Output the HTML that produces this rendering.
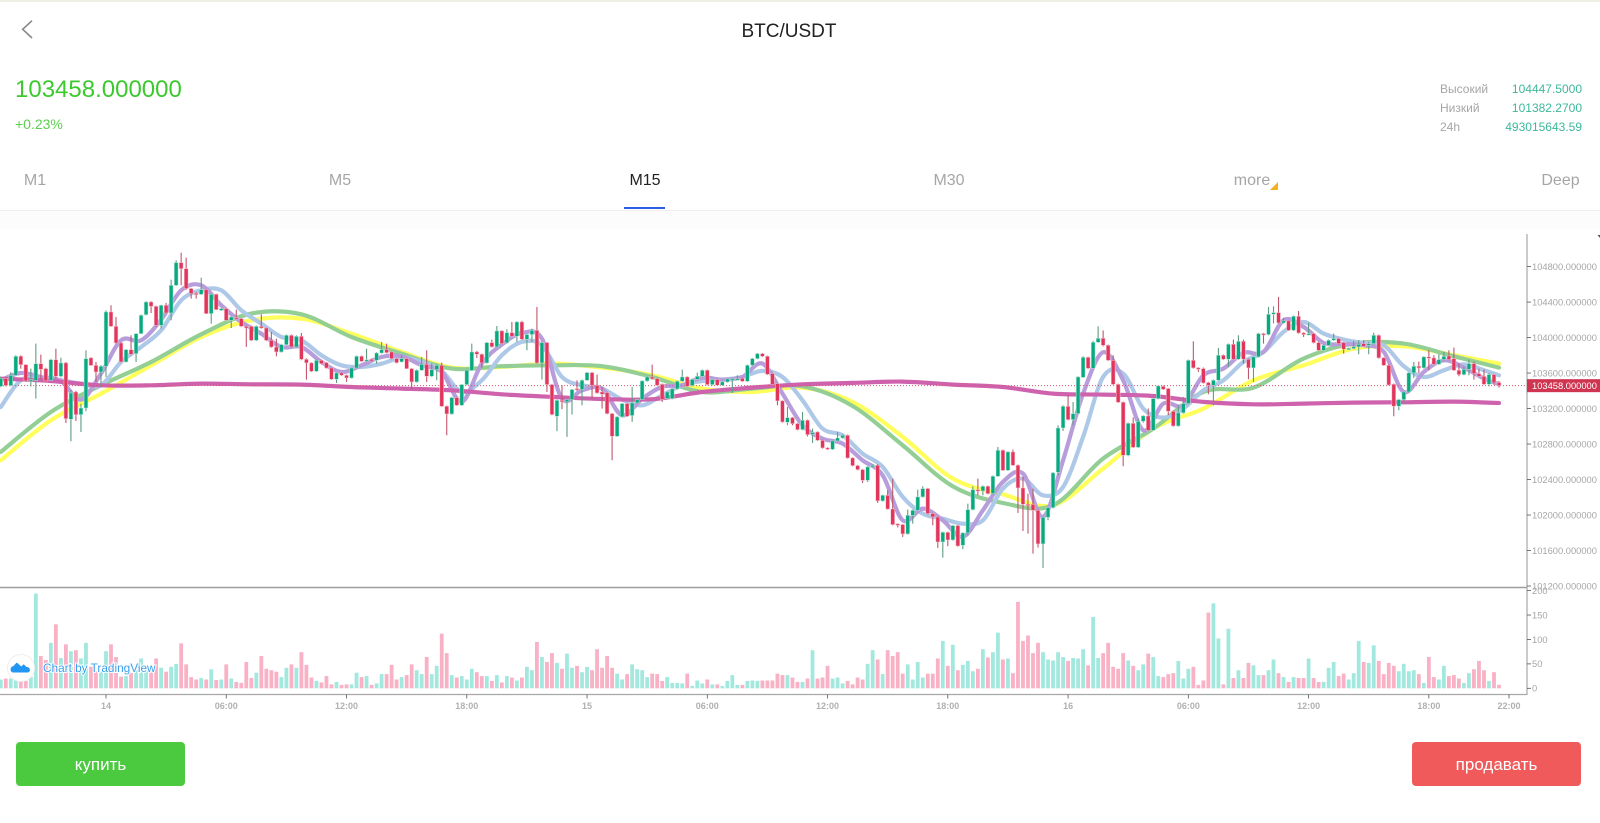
<!DOCTYPE html>
<html lang="ru">
<head>
<meta charset="utf-8">
<title>BTC/USDT</title>
<style>
html,body{margin:0;padding:0;background:#fff;width:1600px;height:823px;overflow:hidden;font-family:"Liberation Sans","Noto Sans CJK SC",sans-serif}
#page{position:relative;width:1600px;height:823px;overflow:hidden;background:#fff;filter:blur(0.3px)}
.abs{position:absolute;white-space:nowrap}
.tab{position:absolute;top:172px;font-size:16px;line-height:18px;color:#a6a6a6;transform:translateX(-50%);cursor:pointer}
.lbl{position:absolute;left:1440px;font-size:12px;line-height:14px;color:#a6a6a6}
.val{position:absolute;right:18px;font-size:12px;line-height:14px;color:#3db89a}
.btn{position:absolute;top:742px;width:169px;height:44px;border-radius:4px;color:#fff;font-size:17px;line-height:46px;text-align:center;cursor:pointer}
svg{position:absolute;left:0;top:0}
svg text{font-family:"Liberation Sans",sans-serif}
</style>
</head>
<body>
<div id="page">
<div class="abs" style="left:0;top:0;width:1600px;height:2px;background:#eef0e4"></div>
<svg width="1600" height="60" style="pointer-events:none"><polyline points="32,20.7 22.7,29.3 32,38" fill="none" stroke="#888" stroke-width="1.6"/></svg>
<div class="abs" style="left:0;width:1578px;top:21px;text-align:center;font-size:19px;line-height:22px;color:#222">BTC/USDT</div>
<div class="abs" style="left:15px;top:76px;font-size:24px;line-height:28px;color:#3cc92e">103458.000000</div>
<div class="abs" style="left:15px;top:116px;font-size:14px;line-height:16px;color:#5bd04e">+0.23%</div>

<div class="lbl" style="top:82px">Высокий</div>
<div class="val" style="top:82px">104447.5000</div>
<div class="lbl" style="top:101px">Низкий</div>
<div class="val" style="top:101px">101382.2700</div>
<div class="lbl" style="top:120px">24h</div>
<div class="val" style="top:120px">493015643.59</div>

<div class="tab" style="left:35px">M1</div>
<div class="tab" style="left:340px">M5</div>
<div class="tab" style="left:645px;color:#222">M15</div>
<div class="tab" style="left:949px">M30</div>
<div class="tab" style="left:1252px">more</div>
<div class="abs" style="left:1270px;top:182px;width:0;height:0;border-left:8px solid transparent;border-bottom:8px solid #f5b022"></div>
<div class="tab" style="left:1560.5px">Deep</div>
<div class="abs" style="left:624px;top:207px;width:41px;height:1.5px;background:#2a5de0"></div>
<div class="abs" style="left:0;top:209.5px;width:1600px;height:1px;background:#efefef"></div>
<div class="abs" style="left:0;top:210.5px;width:1600px;height:18px;background:#fcfcfc"></div>

<svg id="chart" width="1600" height="823"></svg>

<div class="btn" style="left:16px;background:#4bc93f">купить</div>
<div class="btn" style="left:1412px;background:#f05a5a">продавать</div>
</div>

<script>
// [open, close, high, low] for each 15-minute bar
var candles = [
[103450,103540,103560,103440],[103540,103460,103550,103450],[103460,103575,103610,103450],[103575,103789,103800,103570],[103790,103695,103800,103650],
[103695,103511,103700,103500],[103510,103525,103650,103450],[103518,103706,103932,103312],[103706,103642,103808,103530],[103650,103511,103660,103500],
[103518,103751,103760,103510],[103751,103563,103875,103537],[103563,103714,103774,103550],[103714,103086,103725,103037],[103079,103376,103406,102831],
[103387,103131,103400,103060],[103131,103206,103255,102936],[103206,103763,103856,103169],[103770,103687,103780,103680],[103687,103612,103725,103500],
[103612,103676,103690,103443],[103676,104289,104307,103556],[104289,104127,104364,104120],[104127,103939,104232,103930],[103939,103725,103950,103720],
[103725,103864,103870,103720],[103864,103811,104026,103800],[103819,104044,104050,103725],[104044,104251,104260,104040],[104258,104401,104410,104250],
[104401,104352,104410,104277],[104352,104138,104360,104120],[104138,104364,104370,104101],[104364,104277,104390,104270],[104277,104589,104653,104195],
[104589,104845,104871,104580],[104845,104777,104957,104589],[104777,104552,104901,104540],[104552,104495,104560,104439],[104499,104488,104510,104439],
[104488,104540,104675,104480],[104540,104270,104550,104265],[104270,104488,104495,104157],[104488,104315,104495,104310],[104307,104326,104335,104300],
[104326,104195,104335,104190],[104195,104232,104240,104108],[104225,104213,104315,104205],[104213,104127,104220,104120],[104127,104108,104135,103894],
[104127,103969,104135,103960],[103969,104127,104135,103960],[104127,104108,104262,104100],[104108,103969,104115,103960],[103969,103894,104063,103885],
[103894,103838,103988,103789],[103838,103920,103930,103830],[103920,104026,104035,103915],[104026,103894,104035,103885],[103894,104014,104025,103885],
[104014,103755,104052,103745],[103755,103714,103765,103526],[103714,103620,103722,103612],[103620,103744,103752,103612],[103744,103706,103752,103698],
[103717,103657,103725,103650],[103657,103530,103665,103522],[103530,103601,103610,103488],[103601,103575,103610,103568],[103575,103545,103583,103500],
[103545,103657,103665,103538],[103657,103789,103797,103650],[103789,103732,103797,103725],[103736,103751,103875,103728],[103755,103736,103763,103728],
[103744,103826,103835,103706],[103826,103864,103950,103818],[103864,103830,103932,103822],[103838,103763,103845,103755],[103763,103717,103770,103710],
[103726,103763,103801,103720],[103763,103650,103770,103645],[103650,103500,103658,103425],[103500,103632,103640,103492],[103632,103699,103782,103625],
[103699,103564,103857,103500],[103564,103639,103707,103556],[103639,103688,103696,103519],[103688,103226,103718,103218],[103226,103139,103234,102899],
[103139,103324,103332,103131],[103324,103237,103332,103229],[103237,103470,103478,103229],[103470,103632,103640,103462],[103632,103838,103932,103625],
[103838,103812,103850,103771],[103812,103714,103820,103662],[103714,103943,103951,103706],[103943,103895,103977,103887],[103895,104075,104131,103887],
[104075,103932,104083,103925],[103940,104056,104094,103932],[104056,104015,104176,104007],[104015,104176,104184,103951],[104176,103981,104188,103973],
[103981,104034,104042,103857],[104034,104082,104101,103951],[104082,103714,104345,103706],[103714,103943,103951,103526],[103943,103470,103951,103387],
[103470,103132,103478,103124],[103113,103293,103301,102944],[103293,103275,103463,103192],[103275,103301,103310,102880],[103301,103414,103422,103132],
[103425,103414,103519,103400],[103414,103519,103527,103237],[103519,103605,103613,103511],[103605,103463,103613,103312],[103463,103376,103583,103368],
[103387,103361,103444,103200],[103380,103143,103388,103135],[103143,102888,103150,102617],[102888,103106,103114,102880],[103106,103256,103264,103098],
[103256,103113,103264,103105],[103121,103263,103444,103050],[103263,103301,103310,103255],[103301,103511,103519,103293],[103511,103556,103565,103503],
[103556,103534,103695,103525],[103538,103463,103546,103455],[103474,103305,103482,103275],[103312,103387,103395,103304],[103312,103421,103429,103304],
[103421,103508,103516,103413],[103508,103556,103639,103500],[103556,103451,103564,103443],[103459,103530,103538,103451],[103530,103564,103605,103522],
[103564,103632,103640,103556],[103632,103470,103640,103462],[103470,103526,103534,103462],[103526,103463,103534,103455],[103463,103500,103508,103455],
[103500,103534,103542,103492],[103519,103534,103542,103376],[103526,103534,103575,103518],[103541,103508,103550,103500],[103508,103688,103696,103500],
[103688,103763,103771,103680],[103763,103819,103827,103755],[103819,103789,103827,103781],[103789,103587,103797,103579],[103594,103474,103602,103466],
[103481,103286,103489,103237],[103286,103049,103294,103041],[103045,103098,103218,103011],[103098,103030,103106,103011],[103030,102963,103038,102955],
[102963,103068,103162,102955],[103068,102906,103076,102887],[102910,102929,102974,102812],[102936,102842,102944,102834],[102842,102756,102850,102748],
[102756,102741,102764,102733],[102741,102835,102843,102733],[102835,102869,102936,102827],[102869,102899,102907,102861],[102899,102643,102907,102635],
[102643,102557,102651,102549],[102557,102512,102565,102504],[102512,102391,102520,102361],[102391,102542,102550,102372],[102542,102561,102569,102534],
[102561,102159,102572,102136],[102159,102222,102230,102151],[102222,102068,102279,102060],[102068,101892,102410,101884],[101899,101892,101907,101860],
[101892,101787,101900,101753],[101787,101997,102061,101779],[101997,102053,102061,101903],[102053,102204,102286,102045],[102204,102298,102324,102196],
[102298,102016,102306,102008],[102016,101978,102024,101884],[101978,101696,101986,101629],[101696,101805,101813,101520],[101805,101719,101813,101648],
[101719,101881,101889,101711],[101881,101651,101889,101643],[101659,101798,101806,101614],[101798,102061,102128,101772],[102061,102286,102324,102053],
[102286,102271,102410,102222],[102271,102324,102332,102222],[102324,102241,102332,102233],[102241,102437,102445,102233],[102437,102730,102767,102429],
[102730,102504,102738,102496],[102504,102711,102719,102496],[102711,102561,102737,102553],[102561,102305,102569,102023],[102305,102121,102429,101820],
[102121,102110,102241,101790],[102121,102053,102298,101565],[102053,101674,102061,101633],[101674,101974,101982,101403],[101974,102083,102091,101941],
[102083,102474,102485,102075],[102482,102981,103011,102448],[102981,103225,103237,102947],[103225,103075,103349,103067],[103075,103143,103274,103011],
[103143,103556,103564,103135],[103552,103777,103790,103545],[103777,103654,103785,103645],[103654,103947,103960,103645],[103947,103992,104127,103940],
[103992,103913,104080,103900],[103913,103744,103921,103735],[103744,103473,103800,103465],[103473,103271,103481,103263],[103271,102673,103279,102550],
[102673,103034,103042,102662],[103034,102763,103100,102755],[102763,103056,103090,102755],[103057,103117,103125,103040],[103117,102955,103200,102947],
[102955,103312,103320,102947],[103312,103455,103463,103304],[103451,103417,103460,103409],[103425,103170,103433,103125],[103170,103004,103178,102996],
[103004,103151,103237,102996],[103151,103256,103331,103143],[103256,103744,103752,103248],[103744,103658,103958,103650],[103658,103643,103666,103613],
[103650,103489,103662,103481],[103493,103463,103501,103361],[103463,103519,103527,103237],[103519,103801,103883,103511],[103801,103756,103809,103748],
[103756,103925,103933,103670],[103925,103756,103977,103748],[103756,103958,104026,103748],[103958,103756,103977,103707],[103756,103658,103764,103530],
[103658,103782,103790,103500],[103782,104045,104053,103774],[104045,104034,104053,103932],[104034,104263,104345,104026],[104263,104282,104353,104158],
[104282,104165,104458,104157],[104165,104188,104225,104157],[104188,104082,104196,104074],[104082,104240,104248,104074],[104240,104052,104300,104044],
[104052,104034,104060,104007],[104034,104045,104165,104026],[104045,103943,104053,103935],[103943,103857,103951,103849],[103857,103913,103921,103849],
[103913,103970,103978,103905],[103970,103989,104045,103962],[103989,103932,103997,103924],[103943,103868,103951,103819],[103868,103880,103888,103860],
[103876,103895,103962,103868],[103895,103925,103970,103812],[103932,103902,103970,103894],[103913,103932,103950,103812],[103932,104026,104056,103924],
[104026,103771,104034,103763],[103771,103688,103779,103680],[103688,103466,103696,103458],[103474,103226,103482,103113],[103226,103301,103309,103181],
[103301,103387,103395,103248],[103387,103602,103610,103379],[103602,103677,103726,103545],[103677,103658,103730,103600],[103658,103782,103790,103650],
[103782,103771,103857,103632],[103771,103699,103801,103691],[103699,103752,103812,103691],[103752,103789,103838,103744],[103793,103752,103857,103744],
[103763,103632,103887,103624],[103632,103583,103707,103564],[103583,103643,103670,103575],[103643,103707,103752,103575],[103707,103594,103730,103526],
[103594,103564,103650,103556],[103564,103474,103640,103466],[103474,103583,103600,103451],[103583,103489,103591,103470],[103493,103458,103510,103436]
];
var volumes = [
18,20,20,30,15,15,23,194,66,58,93,131,62,90,76,78,61,93,44,34,34,76,90,64,24,25,31,37,61,48,44,61,42,34,44,50,92,49,23,18,21,18,39,17,18,49,20,13,11,54,21,32,66,40,37,34,23,42,49,42,74,48,22,15,12,25,8,13,7,8,8,32,23,25,7,10,29,29,48,18,23,27,49,37,29,64,29,46,112,72,27,22,25,18,40,33,25,25,15,27,
12,25,22,16,22,44,37,95,64,54,72,52,40,71,42,46,33,44,37,80,42,66,42,30,18,29,49,39,37,23,30,29,15,23,11,11,10,30,5,16,10,18,8,8,5,15,27,7,7,15,16,15,16,16,16,30,27,27,22,13,13,20,78,20,22,46,20,22,10,15,8,22,18,50,78,59,29,78,66,74,30,49,18,54,22,30,30,61,97,46,89,37,48,56,35,40,80,63,74,114,
59,61,31,177,97,108,72,93,74,59,57,74,64,56,62,61,80,47,146,62,72,93,44,40,72,57,46,37,49,71,64,25,23,29,31,56,20,40,44,7,16,155,174,102,8,122,21,37,21,52,47,27,27,37,59,31,23,13,23,21,21,61,21,13,13,42,54,25,30,18,31,97,54,52,88,56,29,52,46,35,50,35,37,29,11,64,23,18,46,25,27,20,11,31,39,56,37,15,33,7
];
// Moving averages: fast series are sampled every 4 bars, slow ones every 10 bars (last point = final bar)
var maPurple = [103518,103601,103556,103511,103300,103594,103969,103969,104202,104533,104589,104364,104176,104044,103894,103894,103725,103612,103687,103781,103789,103688,103613,103275,103707,103921,104052,103989,103312,103406,103425,103124,103312,103444,103463,103549,103526,103556,103707,103368,103011,102861,102805,102617,102448,101941,102072,101941,101753,102053,102373,102467,101978,102617,103368,103834,103519,102955,103256,103237,103575,103650,103827,103838,104195,104120,103940,103925,103913,103838,103387,103613,103744,103662,103538,103474];
var maBlue = [103218,103518,103537,103518,103481,103462,103725,103894,104082,104420,104533,104533,104307,104157,104007,103969,103800,103687,103669,103706,103774,103726,103624,103387,103519,103801,103951,103913,103556,103463,103425,103301,103237,103350,103463,103511,103526,103556,103624,103556,103293,102974,102899,102692,102542,102204,102016,101959,101903,101941,102298,102410,102222,102316,102880,103556,103594,103200,103098,103200,103406,103519,103726,103838,104064,104176,104045,103977,103940,103913,103677,103556,103632,103699,103632,103575];
var maYellow = [102617,103068,103368,103687,104007,104195,104213,104044,103838,103662,103669,103707,103662,103575,103425,103387,103436,103274,102880,102410,102234,102110,102523,102974,103200,103519,103688,103876,103902,103801,103707];
var maGreen = [102711,103161,103462,103725,104037,104270,104262,104007,103819,103650,103677,103688,103677,103556,103387,103425,103451,103229,102786,102324,102136,102110,102636,102974,103387,103436,103763,103932,103932,103789,103662];
var maMagenta = [103537,103511,103462,103462,103481,103473,103470,103443,103425,103406,103361,103331,103308,103305,103387,103436,103473,103489,103504,103470,103443,103368,103357,103342,103275,103248,103256,103267,103271,103278,103263];
var priceTicks = [104800,104400,104000,103600,103200,102800,102400,102000,101600,101200];
var volumeTicks = [200,150,100,50,0];
var timeTickLabels = ['14','06:00','12:00','18:00','15','06:00','12:00','18:00','16','06:00','12:00','18:00','22:00'];
var timeTickBars = [21,45,69,93,117,141,165,189,213,237,261,285,301];
var lastPrice = 103458;

var NS = 'http://www.w3.org/2000/svg';
var svg = document.getElementById('chart');
function xAt(i){ return 0.77 + 5.0108 * i; }
function yPrice(p){ return 266.6 + (104800 - p) * 0.08872; }
function yVol(v){ return 688.3 - v * 0.4885; }
function mk(tag, parent){ var e = document.createElementNS(NS, tag); (parent || svg).appendChild(e); return e; }
function smoothPath(vals, step){
  var pts = vals.map(function(v, j){ return [xAt(Math.min(j * step, candles.length - 1)), yPrice(v)]; });
  var d = 'M' + pts[0][0].toFixed(1) + ' ' + pts[0][1].toFixed(1);
  for (var j = 0; j < pts.length - 1; j++){
    var p0 = pts[Math.max(j - 1, 0)], p1 = pts[j], p2 = pts[j + 1], p3 = pts[Math.min(j + 2, pts.length - 1)];
    var c1x = p1[0] + (p2[0] - p0[0]) / 6, c1y = p1[1] + (p2[1] - p0[1]) / 6;
    var c2x = p2[0] - (p3[0] - p1[0]) / 6, c2y = p2[1] - (p3[1] - p1[1]) / 6;
    d += 'C' + c1x.toFixed(1) + ' ' + c1y.toFixed(1) + ' ' + c2x.toFixed(1) + ' ' + c2y.toFixed(1) + ' ' + p2[0].toFixed(1) + ' ' + p2[1].toFixed(1);
  }
  return d;
}
var defs = mk('defs');
var cp = mk('clipPath', defs); cp.setAttribute('id', 'mainClip');
var cr = mk('rect', cp); cr.setAttribute('x', 0); cr.setAttribute('y', 212); cr.setAttribute('width', 1527); cr.setAttribute('height', 375);

// price grid-free main pane
var mainGroup = mk('g');
mainGroup.setAttribute('clip-path', 'url(#mainClip)');



function addMA(vals, step, color, width, name){
  var p = mk('path', mainGroup);
  p.setAttribute('d', smoothPath(vals, step));
  p.setAttribute('fill', 'none');
  p.setAttribute('stroke', color);
  p.setAttribute('stroke-width', width);
  p.setAttribute('stroke-linejoin', 'round');
  p.setAttribute('stroke-linecap', 'round');
  
  
}
addMA(maYellow, 10, '#ffff5c', 4.2, 'ma-yellow-line');
addMA(maGreen, 10, '#93cf95', 4.2, 'ma-green-line');
addMA(maBlue, 4, '#aec8e8', 4.2, 'ma-blue-line');
addMA(maPurple, 4, '#b79ddb', 4.2, 'ma-purple-line');
addMA(maMagenta, 10, '#cf62ad', 4.2, 'ma-magenta-line');

// last price dotted line
var pl = mk('line', mainGroup);
pl.setAttribute('x1', 0);
pl.setAttribute('x2', 1527);
pl.setAttribute('y1', yPrice(lastPrice));
pl.setAttribute('y2', yPrice(lastPrice));
pl.setAttribute('stroke', '#d9576f');
pl.setAttribute('stroke-width', 1);
pl.setAttribute('stroke-dasharray', '1 2');



// candles
candles.forEach(function(c, i){
  var up = c[1] >= c[0];
  var x = xAt(i);
  var wick = mk('line', mainGroup);
  wick.setAttribute('x1', x);
  wick.setAttribute('x2', x);
  wick.setAttribute('y1', yPrice(c[2]));
  wick.setAttribute('y2', yPrice(c[3]));
  wick.setAttribute('stroke', up ? '#5f9d83' : '#c0566c');
  wick.setAttribute('stroke-width', 1.1);
  
  
  var top = yPrice(Math.max(c[0], c[1]));
  var h = Math.max(1.4, Math.abs(yPrice(c[0]) - yPrice(c[1])));
  var body = mk('rect', mainGroup);
  body.setAttribute('x', x - 1.9);
  body.setAttribute('y', top);
  body.setAttribute('width', 3.8);
  body.setAttribute('height', h);
  body.setAttribute('fill', up ? '#08a97f' : '#e2355c');
  body.setAttribute('stroke', up ? '#bfe8dc' : '#f6c4d0');
  body.setAttribute('stroke-width', 0.5);
  
  
});

// volume
var volGroup = mk('g');


volumes.forEach(function(v, i){
  var up = candles[i][1] >= candles[i][0];
  var r = mk('rect', volGroup);
  r.setAttribute('x', xAt(i) - 1.9);
  r.setAttribute('y', yVol(v));
  r.setAttribute('width', 3.8);
  r.setAttribute('height', 688.3 - yVol(v));
  r.setAttribute('fill', up ? '#a3e8de' : '#f8b1c5');
  
  
});

// frame lines
var sep = mk('line');
sep.setAttribute('x1', 0);
sep.setAttribute('x2', 1527);
sep.setAttribute('y1', 587.5);
sep.setAttribute('y2', 587.5);
sep.setAttribute('stroke', '#9e9e9e');
sep.setAttribute('stroke-width', 1.4);


var xAxisLine = mk('line');
xAxisLine.setAttribute('x1', 0);
xAxisLine.setAttribute('x2', 1527);
xAxisLine.setAttribute('y1', 694.5);
xAxisLine.setAttribute('y2', 694.5);
xAxisLine.setAttribute('stroke', '#a8a8a8');
xAxisLine.setAttribute('stroke-width', 1.2);


var yAxisLine = mk('line');
yAxisLine.setAttribute('x1', 1527);
yAxisLine.setAttribute('x2', 1527);
yAxisLine.setAttribute('y1', 234);
yAxisLine.setAttribute('y2', 695);
yAxisLine.setAttribute('stroke', '#a8a8a8');
yAxisLine.setAttribute('stroke-width', 1.2);


var cornerMark = mk('path');
cornerMark.setAttribute('d', 'M1597.5 235h2.5v3z');
cornerMark.setAttribute('fill', '#555');



// price ticks
priceTicks.forEach(function(p){
  var y = yPrice(p);
  var t = mk('line');
  t.setAttribute('x1', 1527);
  t.setAttribute('x2', 1531);
  t.setAttribute('y1', y);
  t.setAttribute('y2', y);
  t.setAttribute('stroke', '#555');
  t.setAttribute('stroke-width', 0.8);
  
  
  var l = mk('text');
  l.setAttribute('x', 1532);
  l.setAttribute('y', y + 3.3);
  l.setAttribute('font-size', 9.35);
  l.setAttribute('fill', '#a6a6a6');
  
  
  l.textContent = p.toFixed(6);
});

// volume ticks
volumeTicks.forEach(function(v){
  var y = yVol(v);
  var t = mk('line');
  t.setAttribute('x1', 1527);
  t.setAttribute('x2', 1531);
  t.setAttribute('y1', y);
  t.setAttribute('y2', y);
  t.setAttribute('stroke', '#555');
  t.setAttribute('stroke-width', 0.8);
  
  
  var l = mk('text');
  l.setAttribute('x', 1532);
  l.setAttribute('y', y + 3.3);
  l.setAttribute('font-size', 9.35);
  l.setAttribute('fill', '#a6a6a6');
  
  
  l.textContent = v;
});

// time ticks
timeTickLabels.forEach(function(s, j){
  var x = xAt(timeTickBars[j]);
  var t = mk('line');
  t.setAttribute('x1', x);
  t.setAttribute('x2', x);
  t.setAttribute('y1', 694.5);
  t.setAttribute('y2', 698.5);
  t.setAttribute('stroke', '#555');
  t.setAttribute('stroke-width', 0.8);
  
  
  var l = mk('text');
  l.setAttribute('x', x);
  l.setAttribute('y', 709);
  l.setAttribute('font-size', 9);
  l.setAttribute('font-weight', 'bold');
  l.setAttribute('text-anchor', 'middle');
  l.setAttribute('fill', '#b0b0b0');
  
  
  l.textContent = s;
});

// last price tag
var tagY = yPrice(lastPrice);
var tag = mk('rect');
tag.setAttribute('x', 1527);
tag.setAttribute('y', tagY - 6.5);
tag.setAttribute('width', 73);
tag.setAttribute('height', 13);
tag.setAttribute('fill', '#cf3450');


var tagText = mk('text');
tagText.setAttribute('x', 1532);
tagText.setAttribute('y', tagY + 3.3);
tagText.setAttribute('font-size', 9.35);
tagText.setAttribute('fill', '#fff');


tagText.textContent = lastPrice.toFixed(6);

// TradingView badge
var badge = mk('circle');
badge.setAttribute('cx', 21);
badge.setAttribute('cy', 668);
badge.setAttribute('r', 13.5);
badge.setAttribute('fill', '#fff');
badge.setAttribute('stroke', '#eeeeee');


var cloud = mk('path');
cloud.setAttribute('d', 'M12.5 672.5a3.4 3.4 0 0 1 .8-6.4l3.5-3.6 4.4 4 2.5-2.2 2.8 2.7a3 3 0 0 1 3.4 2.8 2.7 2.7 0 0 1-1.9 2.7z');
cloud.setAttribute('fill', '#2196f3');


var badgeText = mk('text');
badgeText.setAttribute('x', 43);
badgeText.setAttribute('y', 672);
badgeText.setAttribute('font-size', 11.8);
badgeText.setAttribute('fill', '#3ba0ef');
badgeText.setAttribute('stroke', '#ffffff');
badgeText.setAttribute('stroke-width', 2);
badgeText.setAttribute('paint-order', 'stroke');


badgeText.textContent = 'Chart by TradingView';
</script>
</body>
</html>
